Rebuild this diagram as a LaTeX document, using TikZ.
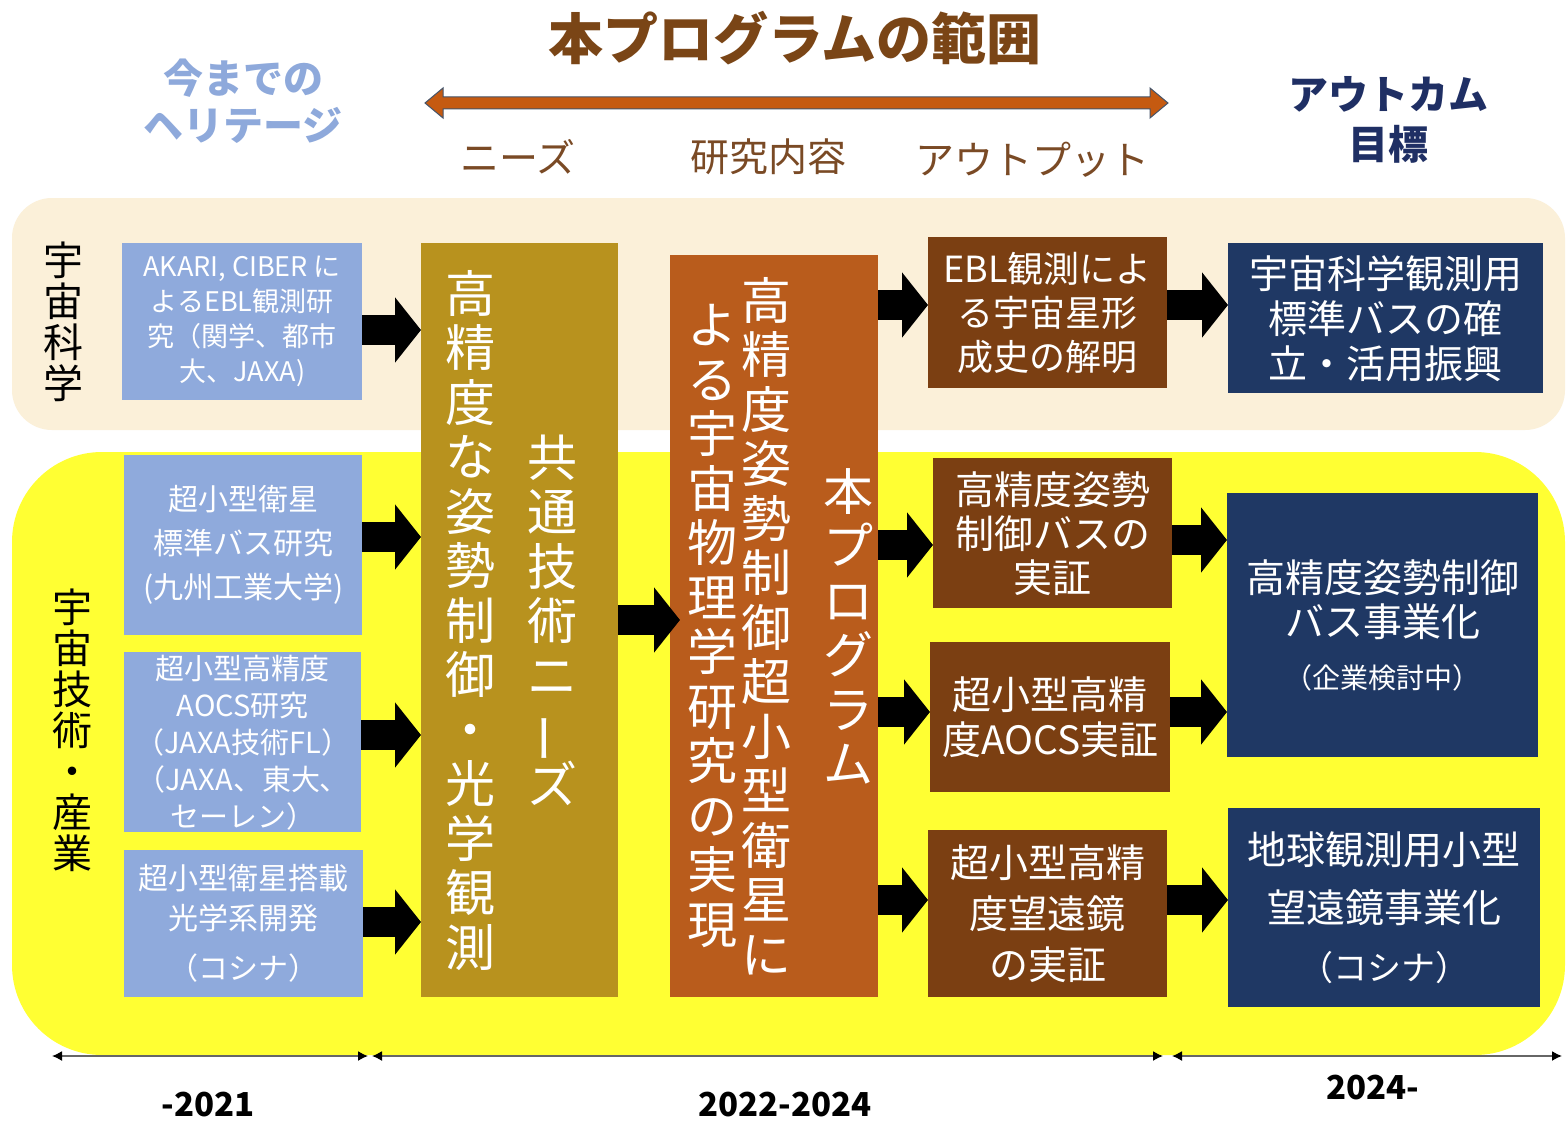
\documentclass[tikz,border=0pt]{standalone}
\usepackage{fontspec}
\usepackage{graphicx}
\usetikzlibrary{arrows.meta,calc}
\setmainfont{Noto Sans CJK JP}
\newcommand{\vcol}[1]{\parbox[c]{1em}{\centering\lineskiplimit=-\maxdimen\lineskip=0pt #1\par}}
\newcommand{\fs}[2]{\fontsize{#1}{#2}\selectfont}
\newcommand{\vbar}{\raisebox{0pt}[0pt][0pt]{\rotatebox[origin=c]{90}{ー}}}
\definecolor{beige}{RGB}{251,240,217}
\definecolor{yel}{RGB}{255,255,51}
\definecolor{lblue}{RGB}{143,170,220}
\definecolor{gold}{RGB}{184,146,30}
\definecolor{rust}{RGB}{185,92,28}
\definecolor{dbrown}{RGB}{123,63,18}
\definecolor{navy}{RGB}{31,56,100}
\definecolor{titlebrown}{RGB}{122,69,22}
\definecolor{herit}{RGB}{142,169,219}
\definecolor{headnavy}{RGB}{31,47,100}
\definecolor{phbrown}{RGB}{122,74,37}
\definecolor{barfill}{RGB}{197,90,17}
\definecolor{barline}{RGB}{68,84,106}
\tikzset{
  box/.style={rectangle, inner sep=0pt, anchor=north west, text=white, align=center},
  lbox/.style={box, fill=lblue},
  obox/.style={box, fill=dbrown},
  rbox/.style={box, fill=navy},
  blk/.style={line width=30pt, black, -{Triangle[length=26pt,width=64pt]}},
  tl/.style={draw=black!60, line width=1.5pt, {Latex[length=10pt,width=10pt,black]}-{Latex[length=10pt,width=10pt,black]}},
  phead/.style={text=phbrown, font=\fs{39}{42}},
}
\begin{document}
\begin{tikzpicture}[x=1pt,y=-1pt]
\fill[white] (0,0) rectangle (1567,1121);
\useasboundingbox (0,0) rectangle (1567,1121);
% bands
\fill[beige, rounded corners=40pt] (12,198) rectangle (1565,430);
\fill[yel, rounded corners=90pt] (12,452) rectangle (1565,1055);
% headers
\node[text=titlebrown, font=\fs{55}{60}\bfseries] (title) at (795,38) {本プログラムの範囲};
\node[text=herit, font=\fs{40}{47}\bfseries, align=center] (herit) at (243,101) {今までの\\ヘリテージ};
\node[text=headnavy, font=\fs{40}{50}\bfseries, align=center] (outc) at (1388,120) {アウトカム\\目標};
\node[phead] (needsh) at (518,157) {ニーズ};
\node[phead] (resh) at (768,157) {研究内容};
\node[phead] (outh) at (1032,160) {アウトプット};
\fill[barfill, draw=barline, line width=1pt] (425,103) -- (443,88) -- (443,97) -- (1150,97) -- (1150,88) -- (1168,103) -- (1150,118) -- (1150,109) -- (443,109) -- (443,118) -- cycle;
% side labels
\node[font=\fs{40}{41}] (sci) at (63,322) {\vcol{宇\\宙\\科\\学}};
\node[font=\fs{40}{41}] (tech) at (72,730) {\vcol{宇\\宙\\技\\術\\・\\産\\業}};
% heritage boxes
\node[lbox, minimum width=240pt, minimum height=157pt, font=\fs{27}{35}] (l1) at (122,243) {AKARI, CIBER に\\よるEBL観測研\\究（関学、都市\\大、JAXA)};
\node[lbox, minimum width=238pt, minimum height=180pt, font=\fs{30}{44}] (l2) at (124,455) {超小型衛星\\標準バス研究\\(九州工業大学)};
\node[lbox, minimum width=237pt, minimum height=180pt, font=\fs{29}{37}] (l3) at (124,652) {超小型高精度\\AOCS研究\\（JAXA技術FL）\\（JAXA、東大、\\セーレン）};
\node[lbox, minimum width=239pt, minimum height=147pt, font=\fs{30}{40}] (l4) at (124,850) {超小型衛星搭載\\光学系開発\\[10pt]（コシナ）};
% needs and research
\node[box, fill=gold, minimum width=197pt, minimum height=754pt, font=\fs{50}{54.5}] (needs) at (421,243)
  {\vcol{高\\精\\度\\な\\姿\\勢\\制\\御\\・\\光\\学\\観\\測}\hspace{32pt}\vcol{共\\通\\技\\術\\ニ\\\vbar\\ズ}\hspace{16pt}};
\node[box, fill=rust, minimum width=208pt, minimum height=742pt, font=\fs{50}{54.5}] (res) at (670,255)
  {\hspace{12pt}\vcol{よ\\る\\宇\\宙\\物\\理\\学\\研\\究\\の\\実\\現}\hspace{4pt}\vcol{高\\精\\度\\姿\\勢\\制\\御\\超\\小\\型\\衛\\星\\に}\hspace{32pt}\vcol{本\\プ\\ロ\\グ\\ラ\\ム}};
% outputs
\node[obox, minimum width=239pt, minimum height=151pt, font=\fs{36}{44}] (o1) at (928,237) {EBL観測によ\\る宇宙星形\\成史の解明};
\node[obox, minimum width=239pt, minimum height=150pt, font=\fs{39}{44}] (o2) at (933,458) {高精度姿勢\\制御バスの\\実証};
\node[obox, minimum width=240pt, minimum height=150pt, font=\fs{39}{45}] (o3) at (930,642) {超小型高精\\度AOCS実証};
\node[obox, minimum width=239pt, minimum height=167pt, font=\fs{39}{51}] (o4) at (928,830) {超小型高精\\度望遠鏡\\の実証};
% outcomes
\node[rbox, minimum width=315pt, minimum height=150pt, font=\fs{39}{45}] (r1) at (1228,243) {宇宙科学観測用\\標準バスの確\\立・活用振興};
\node[rbox, minimum width=311pt, minimum height=264pt, font=\fs{39}{44}] (r2) at (1227,493) {高精度姿勢制御\\バス事業化\\[8pt]{\fs{28}{34}（企業検討中）}};
\node[rbox, minimum width=312pt, minimum height=199pt, font=\fs{39}{58}] (r3) at (1228,808) {地球観測用小型\\望遠鏡事業化\\{\fs{34}{58}（コシナ）}};
% arrow levels
\coordinate (a1) at (0,330);
\coordinate (a2) at (0,537);
\coordinate (a3) at (0,735);
\coordinate (a4) at (0,922);
\coordinate (a5) at (0,620);
\coordinate (b1) at (0,305);
\coordinate (b2) at (0,545);
\coordinate (b3) at (0,712);
\coordinate (b4) at (0,900);
\coordinate (c2) at (0,540);
\draw[blk] (l1.east |- a1) -- (needs.west |- a1);
\draw[blk] (l2.east |- a2) -- (needs.west |- a2);
\draw[blk] (l3.east |- a3) -- (needs.west |- a3);
\draw[blk] (l4.east |- a4) -- (needs.west |- a4);
\draw[blk] (needs.east |- a5) -- ([xshift=10pt]res.west |- a5);
\draw[blk] (res.east |- b1) -- (o1.west |- b1);
\draw[blk] (res.east |- b2) -- (o2.west |- b2);
\draw[blk] (res.east |- b3) -- (o3.west |- b3);
\draw[blk] (res.east |- b4) -- (o4.west |- b4);
\draw[blk] (o1.east |- b1) -- (r1.west |- b1);
\draw[blk] (o2.east |- c2) -- (r2.west |- c2);
\draw[blk] (o3.east |- b3) -- (r2.west |- b3);
\draw[blk] (o4.east |- b4) -- (r3.west |- b4);
% timeline
\coordinate (ta) at (52,1056);
\coordinate (tb) at (368,1056);
\coordinate (tc) at (372,1056);
\coordinate (td) at (1163,1056);
\coordinate (te) at (1172,1056);
\coordinate (tf) at (1562,1056);
\draw[tl] (ta) -- (tb);
\draw[tl] (tc) -- (td);
\draw[tl] (te) -- (tf);
\node[font=\fs{33}{36}\bfseries] (t1) at (208,1105) {-2021};
\node[font=\fs{33}{36}\bfseries] (t2) at (785,1105) {2022-2024};
\node[font=\fs{33}{36}\bfseries] (t3) at (1373,1088) {2024-};
\end{tikzpicture}
\end{document}
